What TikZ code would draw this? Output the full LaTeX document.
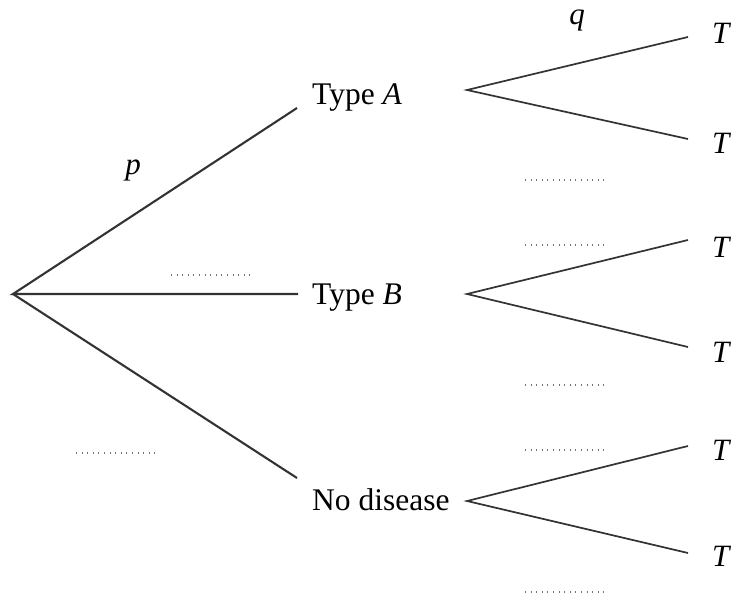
\documentclass[tikz,border=0pt]{standalone}
\usepackage{fontspec}
\setmainfont{Liberation Serif}
\begin{document}
\begin{tikzpicture}[x=1pt,y=-1pt,
  branch/.style={line width=2.1pt,black!80},
  twig/.style={line width=1.7pt,black!80},
  outcome/.style={anchor=west,inner sep=0pt,font=\fontsize{31.5}{36}\selectfont},
  leaf/.style={anchor=west,inner sep=0pt,font=\fontsize{31}{36}\selectfont\itshape},
  prob/.style={inner sep=0pt,font=\fontsize{31}{36}\selectfont\itshape},
  blank/.style={line width=1.4pt,black!55,dash pattern=on 1pt off 4.6pt}]
\useasboundingbox (0,0) rectangle (733,596);

% first stage
\coordinate (root) at (13,294);
\coordinate (ea) at (297,108);
\coordinate (eb) at (298,294);
\coordinate (en) at (297,478);
\node[outcome] (A) at (312,98) {Type \textit{A}};
\node[outcome] (B) at (312,298) {Type \textit{B}};
\node[outcome] (N) at (312,500) {No disease};
\draw[branch] (ea) -- (root) -- (eb);
\draw[branch] (root) -- (en);
\node[prob] (p) at (133,170) {p};
\draw[blank] (171,275) -- (251,275);
\draw[blank] (76,453) -- (157,453);

% second stage
\coordinate (oa) at (467,90);
\coordinate (ob) at (467,294);
\coordinate (on) at (467,501);
\coordinate (a1) at (688,37);
\coordinate (a2) at (688,139);
\coordinate (b1) at (688,240);
\coordinate (b2) at (688,347);
\coordinate (n1) at (688,446);
\coordinate (n2) at (688,553);
\draw[twig] (a1) -- (oa) -- (a2);
\draw[twig] (b1) -- (ob) -- (b2);
\draw[twig] (n1) -- (on) -- (n2);

\node[leaf] (ta1) at (712,33) {T};
\node[leaf] (ta2) at (712,143) {T};
\node[leaf] (tb1) at (712,247) {T};
\node[leaf] (tb2) at (712,352) {T};
\node[leaf] (tn1) at (712,450) {T};
\node[leaf] (tn2) at (712,556) {T};

\node[prob] (q) at (577,20) {q};
\draw[blank] (525,180) -- (605,180);
\draw[blank] (525,245) -- (605,245);
\draw[blank] (525,385) -- (605,385);
\draw[blank] (525,450) -- (605,450);
\draw[blank] (525,592) -- (605,592);
\end{tikzpicture}
\end{document}
